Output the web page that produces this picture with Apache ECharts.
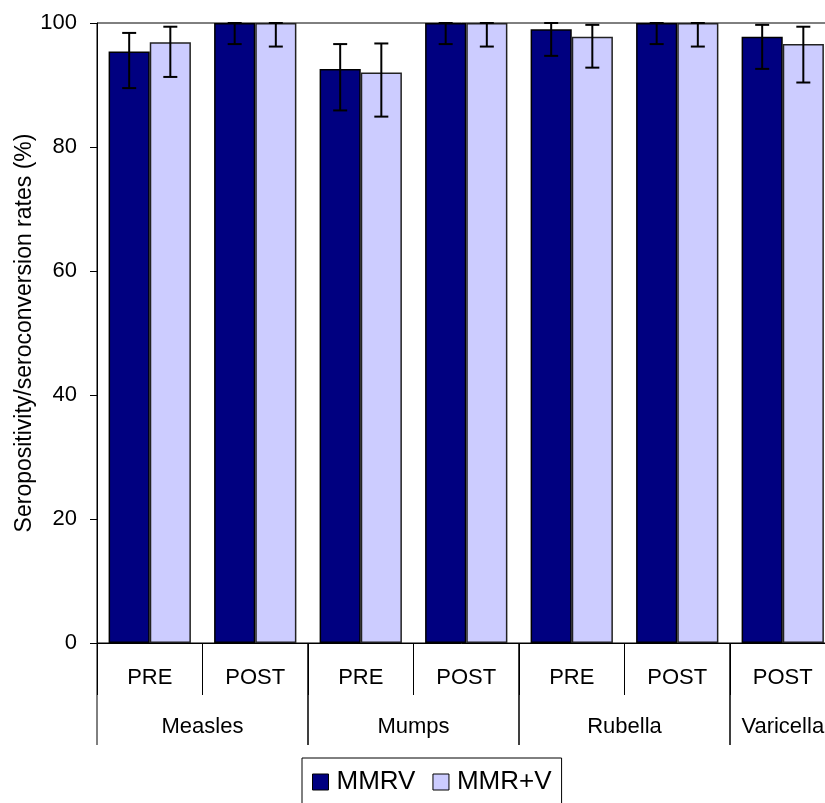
<!DOCTYPE html>
<html>
<head>
<meta charset="utf-8">
<script src="https://cdn.jsdelivr.net/npm/echarts@6/dist/echarts.min.js"></script>
<style>
  html, body { margin: 0; padding: 0; background: #fff; }
  #chart { width: 825px; height: 803px; }
</style>
</head>
<body>
<div id="chart"></div>
<script>
// Sub-categories (time point) and their vaccine groups
const categories = ['PRE', 'POST', 'PRE', 'POST', 'PRE', 'POST', 'POST'];
const groupNames = ['Measles', 'Mumps', 'Rubella', 'Varicella'];
const groupSpans = [2, 2, 2, 1];

// Seropositivity / seroconversion rates (%) with 95% CI bounds
const mmrv        = [95.4, 100, 92.6, 100, 99.0, 100, 97.8];
const mmrvLow     = [89.5, 96.6, 85.9, 96.6, 94.7, 96.6, 92.6];
const mmrvHigh    = [98.4, 100, 96.6, 100, 100, 100, 99.7];
const mmrPlusV     = [96.9, 100, 92.0, 100, 97.8, 100, 96.6];
const mmrPlusVLow  = [91.3, 96.2, 84.9, 96.2, 92.8, 96.2, 90.4];
const mmrPlusVHigh = [99.4, 100, 96.7, 100, 99.7, 100, 99.4];

const yTicks = [0, 20, 40, 60, 80, 100];

const FONT = 'Liberation Sans, Arial, sans-serif';
const CAT_GAP = 0.22;

const chart = echarts.init(document.getElementById('chart'), null, { renderer: 'canvas' });

function errorBarRenderer(slot) {
  return function (params, api) {
    const x = api.value(0);
    const lo = api.coord([x, api.value(1)]);
    const hi = api.coord([x, api.value(2)]);
    const band = api.size([1, 0])[0];
    const barW = band * (1 - CAT_GAP) / 2;
    const cx = lo[0] + (slot === 0 ? -0.5 : 0.5) * barW;
    const half = 7;
    const style = { stroke: '#000', lineWidth: 2 };
    return {
      type: 'group',
      children: [
        { type: 'line', shape: { x1: cx, y1: lo[1], x2: cx, y2: hi[1] }, style },
        { type: 'line', shape: { x1: cx - half, y1: lo[1], x2: cx + half, y2: lo[1] }, style },
        { type: 'line', shape: { x1: cx - half, y1: hi[1], x2: cx + half, y2: hi[1] }, style }
      ]
    };
  };
}

// Group rows: [first index, span]
const groupData = [];
let start = 0;
groupNames.forEach((g, i) => {
  groupData.push([start, groupSpans[i]]);
  start += groupSpans[i];
});

function groupRenderer(params, api) {
  const s = api.value(0);
  const span = api.value(1);
  const name = groupNames[params.dataIndex];
  const band = api.size([1, 0])[0];
  const p0 = api.coord([s, 0]);
  const left = p0[0] - band / 2;
  const right = left + band * span;
  const y0 = p0[1];
  const lineStyle = { stroke: '#000', lineWidth: 1 };
  return {
    type: 'group',
    children: [
      { type: 'line', shape: { x1: left, y1: y0, x2: left, y2: y0 + 102 }, style: lineStyle },
      { type: 'line', shape: { x1: right, y1: y0, x2: right, y2: y0 + 102 }, style: lineStyle },
      {
        type: 'text',
        style: {
          x: (left + right) / 2, y: y0 + 83.5, text: name,
          fill: '#000', font: '22px ' + FONT, align: 'center', verticalAlign: 'middle'
        }
      }
    ]
  };
}

const option = {
  animation: false,
  backgroundColor: '#fff',
  grid: {
    left: 97, top: 23, width: 738.5, height: 620,
    outerBoundsMode: 'none',
    containLabel: false,
    show: true, borderColor: '#000', borderWidth: 1, backgroundColor: 'transparent'
  },
  legend: {
    data: ['MMRV', 'MMR+V'],
    left: 302, top: 758,
    padding: [10, 7, 10, 10],
    itemGap: 14,
    itemWidth: 16, itemHeight: 16,
    icon: 'rect',
    borderColor: '#000', borderWidth: 1,
    itemStyle: { borderColor: '#000', borderWidth: 1 },
    textStyle: { fontSize: 26, lineHeight: 28, fontFamily: FONT, color: '#000', padding: [0, 3, 0, 3] }
  },
  xAxis: {
    type: 'category',
    data: categories,
    boundaryGap: true,
    axisLine: { show: true, lineStyle: { color: '#000', width: 1 } },
    axisTick: { show: true, length: 52, lineStyle: { color: '#000', width: 1 } },
    axisLabel: { fontSize: 22, fontFamily: FONT, color: '#000', margin: 23.5 },
    splitLine: { show: false }
  },
  yAxis: {
    type: 'value',
    min: yTicks[0], max: yTicks[yTicks.length - 1], interval: 20,
    name: 'Seropositivity/seroconversion rates (%)',
    nameLocation: 'middle',
    nameGap: 61,
    nameMoveOverlap: false,
    nameTextStyle: { fontSize: 23, fontFamily: FONT, color: '#000' },
    axisLine: { show: true, lineStyle: { color: '#000', width: 1 } },
    axisTick: { show: true, length: 7, lineStyle: { color: '#000' } },
    axisLabel: { fontSize: 22, fontFamily: FONT, color: '#000', margin: 20 },
    splitLine: { show: false }
  },
  series: [
    {
      name: 'MMRV', type: 'bar', data: mmrv,
      barGap: '0%', barCategoryGap: (CAT_GAP * 100) + '%',
      itemStyle: { color: '#000080', borderColor: '#000', borderWidth: 1.5 }
    },
    {
      name: 'MMR+V', type: 'bar', data: mmrPlusV,
      barGap: '0%', barCategoryGap: (CAT_GAP * 100) + '%',
      itemStyle: { color: '#CCCCFF', borderColor: '#222', borderWidth: 1.5 }
    },
    {
      type: 'custom', renderItem: errorBarRenderer(0), z: 5,
      data: categories.map((c, i) => [i, mmrvLow[i], mmrvHigh[i]])
    },
    {
      type: 'custom', renderItem: errorBarRenderer(1), z: 5,
      data: categories.map((c, i) => [i, mmrPlusVLow[i], mmrPlusVHigh[i]])
    },
    {
      type: 'custom', renderItem: groupRenderer, silent: true, clip: false,
      data: groupData
    }
  ]
};

chart.setOption(option);
</script>
</body>
</html>
